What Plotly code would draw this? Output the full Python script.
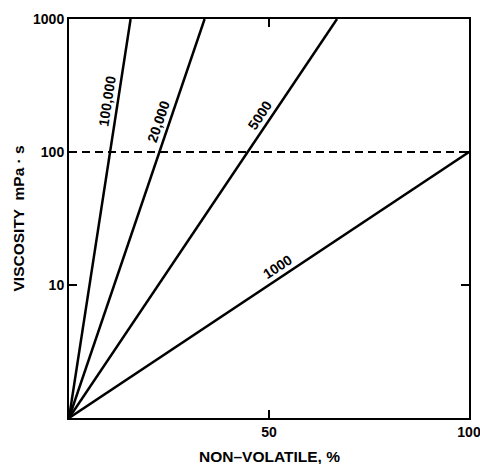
import math
import plotly.graph_objects as go

# Data: each line runs from (0 %, 1 mPa·s) to its end point
line_labels = ["100,000", "20,000", "5000", "1000"]
x_start = [0, 0, 0, 0]
y_start = [1, 1, 1, 1]
x_end = [15.4, 33.9, 67.0, 100.0]
y_end = [1000, 1000, 1000, 100]
label_frac = [0.79, 0.735, 0.745, 0.535]  # fraction along each line where its label sits

ref_x = [0, 100]
ref_y = [100, 100]

x_ticks = [50, 100]
y_ticks = [10, 100, 1000]

x_title = "NON\u2013VOLATILE, %"
y_title = "VISCOSITY  mPa \u00b7 s"

FONT = "Liberation Sans"
L, R, T, B = 69, 11, 19, 46
WIDTH, HEIGHT = 480, 464
PW, PH = WIDTH - L - R, HEIGHT - T - B
Y_LOG_RANGE = [0, 3]

fig = go.Figure()
for xs, ys, xe, ye in zip(x_start, y_start, x_end, y_end):
    fig.add_trace(go.Scatter(x=[xs, xe], y=[ys, ye], mode="lines",
                             line=dict(color="black", width=2.5),
                             showlegend=False, hoverinfo="skip"))

fig.add_trace(go.Scatter(x=ref_x, y=ref_y, mode="lines",
                         line=dict(color="black", width=2.2, dash="8px,5px"),
                         showlegend=False, hoverinfo="skip"))

offset = 10.5
for lab, xs, ys, xe, ye, f in zip(line_labels, x_start, y_start, x_end, y_end, label_frac):
    ls, le = math.log10(ys), math.log10(ye)
    dx_px = (xe - xs) / 100 * PW
    dy_px = (le - ls) / (Y_LOG_RANGE[1] - Y_LOG_RANGE[0]) * PH
    ang = math.atan2(dy_px, dx_px)
    xa = xs + f * (xe - xs)
    ya = ls + f * (le - ls)
    fig.add_annotation(x=xa, y=ya, xref="x", yref="y", text=lab, showarrow=False,
                       textangle=-math.degrees(ang),
                       xshift=-offset * math.sin(ang), yshift=offset * math.cos(ang),
                       font=dict(family=FONT, size=14, color="black", weight="bold"))

title_font = dict(family=FONT, size=15.5, color="black", weight="bold")
fig.add_annotation(text=x_title, xref="paper", yref="paper", x=0.5, y=0,
                   xanchor="center", yanchor="middle", yshift=-38,
                   showarrow=False, font=title_font)
fig.add_annotation(text=y_title, xref="paper", yref="paper", x=0, y=0.5,
                   xanchor="center", yanchor="middle", xshift=-51, textangle=-90,
                   showarrow=False, font=title_font)

axis_common = dict(showline=True, linecolor="black", linewidth=2, mirror="ticks",
                   ticks="inside", ticklen=8, tickwidth=2, tickcolor="black",
                   showgrid=False, zeroline=False, automargin=False,
                   ticklabeloverflow="allow",
                   tickfont=dict(family=FONT, size=14, color="black", weight="bold"))

fig.update_xaxes(range=[0, 100], tickvals=x_ticks, ticktext=[str(v) for v in x_ticks],
                 **axis_common)
fig.update_yaxes(type="log", range=Y_LOG_RANGE, tickvals=y_ticks,
                 ticktext=[str(v) for v in y_ticks], **axis_common)

fig.update_layout(width=WIDTH, height=HEIGHT, margin=dict(l=L, r=R, t=T, b=B),
                  plot_bgcolor="white", paper_bgcolor="white")

fig.write_html("out.html")
